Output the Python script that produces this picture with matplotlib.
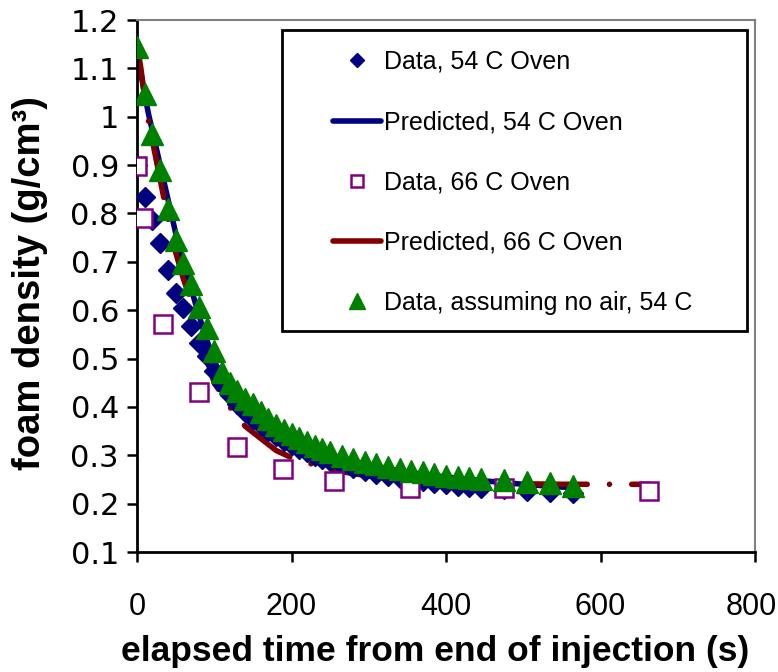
import numpy as np
import matplotlib
matplotlib.use("Agg")
import matplotlib.pyplot as plt
from matplotlib.patches import Rectangle
from matplotlib.transforms import ScaledTranslation

plt.rcParams['font.family'] = ['Liberation Sans', 'DejaVu Sans']

# time points for the 54 C data (s)
t54 = [0, 10, 20, 30, 40, 50, 60, 70, 80, 90, 100, 110, 120, 130, 140, 150,
       160, 170, 180, 190, 200, 210, 220, 230, 240, 250, 265, 280, 295, 310,
       325, 340, 355, 370, 385, 400, 415, 430, 445, 475, 505, 535, 565]
rho54 = [0.900, 0.835, 0.786, 0.739, 0.683, 0.636, 0.605, 0.568, 0.532, 0.505,
         0.475, 0.447, 0.425, 0.405, 0.390, 0.376, 0.362, 0.350, 0.340, 0.330,
         0.321, 0.313, 0.306, 0.299, 0.293, 0.288, 0.280, 0.273, 0.267, 0.262,
         0.257, 0.253, 0.249, 0.246, 0.242, 0.240, 0.237, 0.235, 0.233, 0.230,
         0.227, 0.225, 0.222]
rho_noair = [1.144, 1.047, 0.964, 0.890, 0.810, 0.745, 0.698, 0.655, 0.607, 0.563,
             0.515, 0.472, 0.450, 0.432, 0.416, 0.405, 0.390, 0.375, 0.363, 0.352,
             0.343, 0.335, 0.327, 0.320, 0.313, 0.307, 0.299, 0.293, 0.286, 0.282,
             0.276, 0.271, 0.268, 0.265, 0.261, 0.258, 0.256, 0.254, 0.251, 0.249,
             0.245, 0.243, 0.237]

# 66 C data
t66 = [0, 8, 34, 80, 129, 189, 255, 354, 475, 663]
rho66 = [0.898, 0.790, 0.571, 0.431, 0.317, 0.271, 0.247, 0.232, 0.232, 0.226]

# predicted curves
tp54 = [0, 5, 10, 15, 20, 30, 40, 50, 60, 70, 80, 90, 100, 120, 140, 160, 180,
        200, 250, 300, 350, 400, 450, 500, 570]
pred54 = [1.14, 1.09, 1.045, 1.005, 0.97, 0.90, 0.83, 0.76, 0.70, 0.645, 0.59,
          0.54, 0.495, 0.43, 0.39, 0.365, 0.345, 0.33, 0.30, 0.28, 0.265, 0.255,
          0.247, 0.24, 0.232]
tp66 = [0, 5, 10, 15, 20, 30, 40, 50, 60, 70, 80, 90, 100, 120, 140, 160, 180,
        200, 250, 300, 350, 400, 450, 500, 550, 600, 663]
pred66 = [1.15, 1.10, 1.04, 0.99, 0.95, 0.87, 0.79, 0.72, 0.665, 0.62, 0.56,
          0.50, 0.45, 0.40, 0.36, 0.335, 0.31, 0.295, 0.27, 0.257, 0.249, 0.245,
          0.242, 0.241, 0.240, 0.240, 0.240]

labels = ['Data, 54 C Oven', 'Predicted, 54 C Oven', 'Data, 66 C Oven',
          'Predicted, 66 C Oven', 'Data, assuming no air, 54 C']

W, H = 778, 672
fig = plt.figure(figsize=(W / 100, H / 100), dpi=100)
ax = fig.add_axes([137 / W, (H - 552) / H, 618 / W, 532 / H])

h1, = ax.plot(t54, rho54, ls='none', marker='D', ms=10, color='#000080', zorder=3)
h2, = ax.plot(tp54, pred54, color='#000080', lw=4, solid_capstyle='round', zorder=2)
h3, = ax.plot(t66, rho66, ls='none', marker='s', ms=12.5, mfc='white', mec='#800080',
              mew=1.8, zorder=4)
h4, = ax.plot(tp66, pred66, color='#800000', lw=4, ls=(0, (10, 4, 0.01, 4)),
              dash_capstyle='round', zorder=2)
h5, = ax.plot(t54, rho_noair, ls='none', marker='^', ms=15.5, color='#008000', zorder=5)

ax.set_xlim(0, 800)
ax.set_ylim(0.1, 1.2)
ax.set_xticks([0, 200, 400, 600, 800])
ax.set_yticks(np.round(np.arange(0.1, 1.21, 0.1), 1))
ax.set_yticklabels(['0.1', '0.2', '0.3', '0.4', '0.5', '0.6', '0.7', '0.8',
                    '0.9', '1', '1.1', '1.2'])

for s in ['top', 'right']:
    ax.spines[s].set_color('#808080')
    ax.spines[s].set_linewidth(1.5)
for s in ['left', 'bottom']:
    ax.spines[s].set_color('black')
    ax.spines[s].set_linewidth(2)

ax.tick_params(axis='both', direction='out', length=7, width=1.8)
ax.tick_params(axis='y', pad=6)
ax.tick_params(axis='x', pad=22)
for lb in ax.get_yticklabels():
    lb.set_fontfamily('DejaVu Sans')
    lb.set_fontsize(22)
for lb in ax.get_xticklabels():
    lb.set_fontsize(22)
# last x label sits at the right edge of the picture, nudge it in
last = ax.get_xticklabels()[-1]
last.set_transform(last.get_transform() + ScaledTranslation(-4 / 100, 0, fig.dpi_scale_trans))

ax.set_xlabel('elapsed time from end of injection (s)', fontsize=25.5,
              fontweight='bold')
ax.xaxis.set_label_coords((435 - 137) / 618, -(668 - 552) / 532)
ax.xaxis.label.set_va('bottom')
ax.set_ylabel('foam density (g/cm³)', fontsize=27.5, fontweight='bold')
ax.yaxis.set_label_coords(-(137 - 48) / 618, (552 - 283) / 532)

# legend box drawn separately so its size matches the reference
fig.patches.append(Rectangle((282 / W, 1 - 331 / H), 465 / W, 301 / H,
                             transform=fig.transFigure, fill=True, fc='white',
                             ec='black', lw=2, zorder=10))
leg = fig.legend([h1, h2, h3, h4, h5], labels, loc='upper left',
                 bbox_to_anchor=(333 / W, 1 - 50 / H), frameon=False,
                 fontsize=18, markerscale=0.7, handlelength=1.9,
                 handletextpad=0.15, labelspacing=1.45, borderpad=0,
                 borderaxespad=0)
leg.set_zorder(11)

fig.savefig('out.png', dpi=100)
